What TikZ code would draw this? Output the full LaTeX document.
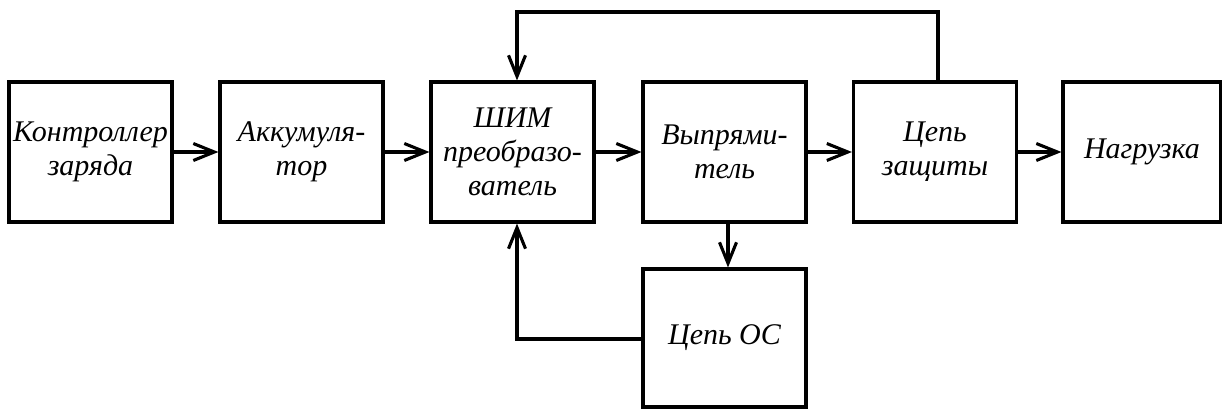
\documentclass[tikz,border=0pt]{standalone}
\usepackage{fontspec}
\setmainfont{Liberation Serif}
\usetikzlibrary{arrows.meta}
\begin{document}
\begin{tikzpicture}[x=1pt,y=-1pt,
  blk/.style={draw,line width=3.1pt,minimum width=163pt,minimum height=140pt,inner sep=0pt,align=center,font=\fontsize{30}{34}\selectfont\itshape},
  conn/.style={line width=3.1pt,-{Straight Barb[length=21pt,width=17pt]}},
  ]
\useasboundingbox (0,0) rectangle (1222,409);
\node[blk] (b1) at (90.5,152) {Контроллер\\заряда};
\node[blk] (b2) at (301.5,152) {Аккумуля-\\тор};
\node[blk] (b3) at (512.5,152) {ШИМ\\преобразо-\\ватель};
\node[blk] (b4) at (724.5,152) {Выпрями-\\тель};
\node[blk] (b5) at (935,152) {Цепь\\защиты};
\node[blk,minimum width=158pt] (b6) at (1142,152) {Нагрузка};
\node[blk,minimum height=138pt] (b7) at (724.5,338) {Цепь ОС};
\coordinate (t1) at (938,12);
\coordinate (t2) at (517,12);
\coordinate (c) at (517,339);
\draw[conn] (b1) -- (b2);
\draw[conn] (b2) -- (b3);
\draw[conn] (b3) -- (b4);
\draw[conn] (b4) -- (b5);
\draw[conn] (b5) -- (b6);
\draw[conn] (b5.north -| t1) -- (t1) -- (t2) -- (t2 |- b3.north);
\draw[conn] (b7.west |- c) -- (c) -- (c |- b3.south);
\draw[conn] ([xshift=3.5pt]b4.south) -- ([xshift=3.5pt]b7.north);
\end{tikzpicture}
\end{document}
